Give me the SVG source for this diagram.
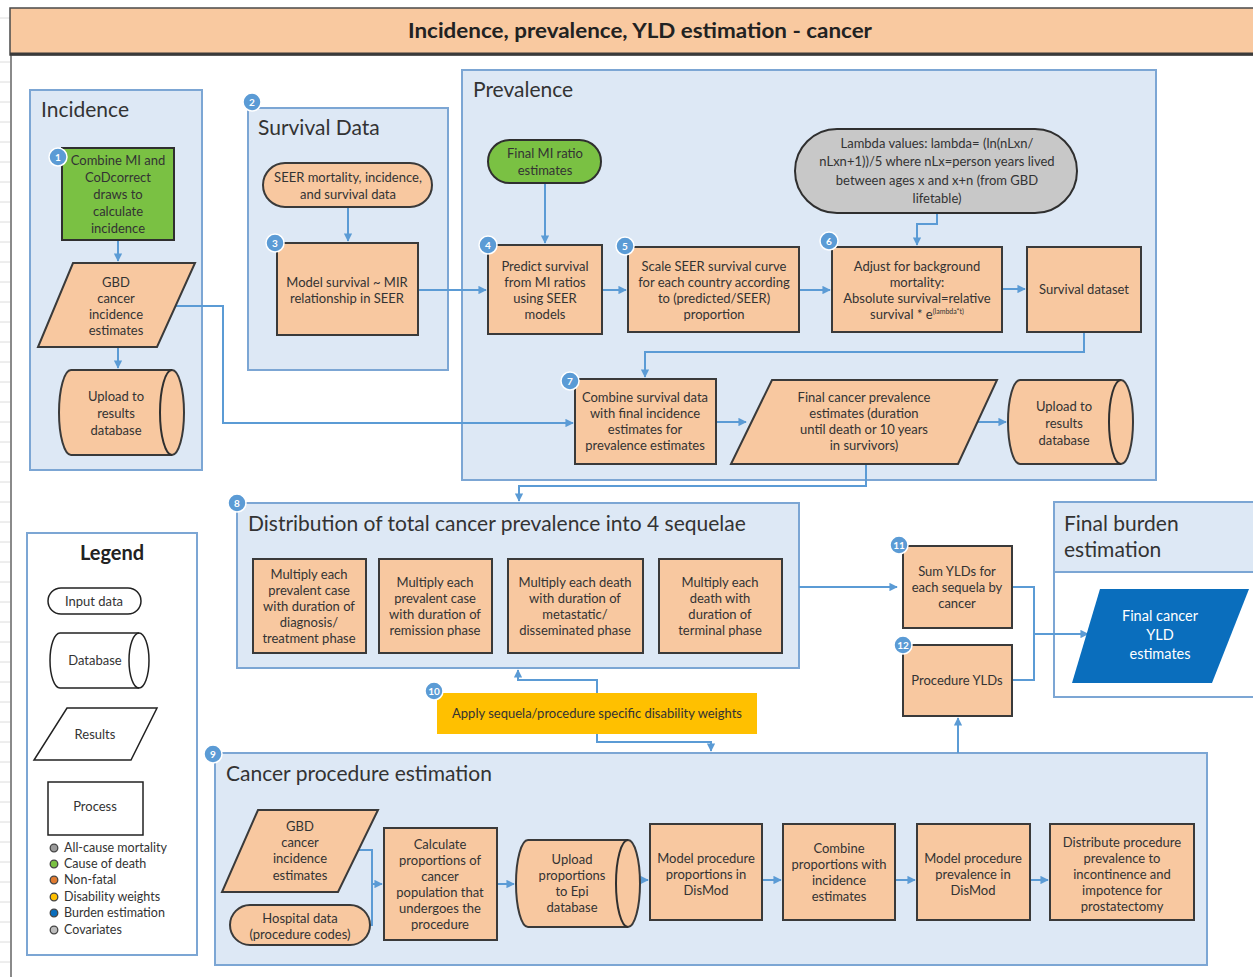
<svg xmlns="http://www.w3.org/2000/svg" width="1253" height="977" viewBox="0 0 1253 977">
  <defs>
    <marker id="arr" viewBox="0 0 10 10" refX="9" refY="5" markerWidth="4.2" markerHeight="4.2" orient="auto">
      <path d="M0,0 L10,5 L0,10 Z" fill="#5b9bd5"/>
    </marker>
    <style>
      .panel { fill: #dde8f5; stroke: #7ca6d4; stroke-width: 2; }
      .ptitle { font-family: Lato, "Open Sans", "Liberation Sans", sans-serif; font-size: 21px; fill: #333; }
      .proc { fill: #f8c8a0; stroke: #3a3a3a; stroke-width: 2; }
      .t { font-family: Lato, "Liberation Sans", sans-serif; font-size: 13px; fill: #333; text-anchor: middle; }
      .tw { font-family: Lato, "Liberation Sans", sans-serif; font-size: 14.5px; fill: #fff; text-anchor: middle; }
      .badge circle { fill: #5b9bd5; stroke: #fff; stroke-width: 1.5; }
      .badge text { font-family: Lato, "Liberation Sans", sans-serif; font-size: 10px; font-weight: bold; fill: #fff; text-anchor: middle; }
      .conn { fill: none; stroke: #5b9bd5; stroke-width: 2; }
      .leg { fill: #fff; stroke: #222; stroke-width: 1.5; }
      .lt { font-family: Lato, "Liberation Sans", sans-serif; font-size: 12.5px; fill: #333; }
      .grid { stroke: #dcdcdc; stroke-width: 1; }
    </style>
  </defs>

  <rect x="0" y="0" width="1253" height="977" fill="#fff"/>

  <!-- sheet gridlines at the left margin -->
  <g id="sheet-grid">
    <line class="grid" x1="0" y1="18" x2="10" y2="18"/>
    <line class="grid" x1="0" y1="62" x2="10" y2="62"/>
    <line class="grid" x1="0" y1="82" x2="10" y2="82"/>
    <line class="grid" x1="0" y1="102" x2="10" y2="102"/>
    <line class="grid" x1="0" y1="122" x2="10" y2="122"/>
    <line class="grid" x1="0" y1="142" x2="10" y2="142"/>
    <line class="grid" x1="0" y1="162" x2="10" y2="162"/>
    <line class="grid" x1="0" y1="182" x2="10" y2="182"/>
    <line class="grid" x1="0" y1="202" x2="10" y2="202"/>
    <line class="grid" x1="0" y1="222" x2="10" y2="222"/>
    <line class="grid" x1="0" y1="242" x2="10" y2="242"/>
    <line class="grid" x1="0" y1="262" x2="10" y2="262"/>
    <line class="grid" x1="0" y1="282" x2="10" y2="282"/>
    <line class="grid" x1="0" y1="302" x2="10" y2="302"/>
    <line class="grid" x1="0" y1="322" x2="10" y2="322"/>
    <line class="grid" x1="0" y1="342" x2="10" y2="342"/>
    <line class="grid" x1="0" y1="362" x2="10" y2="362"/>
    <line class="grid" x1="0" y1="382" x2="10" y2="382"/>
    <line class="grid" x1="0" y1="402" x2="10" y2="402"/>
    <line class="grid" x1="0" y1="422" x2="10" y2="422"/>
    <line class="grid" x1="0" y1="442" x2="10" y2="442"/>
    <line class="grid" x1="0" y1="462" x2="10" y2="462"/>
    <line class="grid" x1="0" y1="482" x2="10" y2="482"/>
    <line class="grid" x1="0" y1="502" x2="10" y2="502"/>
    <line class="grid" x1="0" y1="522" x2="10" y2="522"/>
    <line class="grid" x1="0" y1="542" x2="10" y2="542"/>
    <line class="grid" x1="0" y1="562" x2="10" y2="562"/>
    <line class="grid" x1="0" y1="582" x2="10" y2="582"/>
    <line class="grid" x1="0" y1="602" x2="10" y2="602"/>
    <line class="grid" x1="0" y1="622" x2="10" y2="622"/>
    <line class="grid" x1="0" y1="642" x2="10" y2="642"/>
    <line class="grid" x1="0" y1="662" x2="10" y2="662"/>
    <line class="grid" x1="0" y1="682" x2="10" y2="682"/>
    <line class="grid" x1="0" y1="702" x2="10" y2="702"/>
    <line class="grid" x1="0" y1="722" x2="10" y2="722"/>
    <line class="grid" x1="0" y1="742" x2="10" y2="742"/>
    <line class="grid" x1="0" y1="762" x2="10" y2="762"/>
    <line class="grid" x1="0" y1="782" x2="10" y2="782"/>
    <line class="grid" x1="0" y1="802" x2="10" y2="802"/>
    <line class="grid" x1="0" y1="822" x2="10" y2="822"/>
    <line class="grid" x1="0" y1="842" x2="10" y2="842"/>
    <line class="grid" x1="0" y1="862" x2="10" y2="862"/>
    <line class="grid" x1="0" y1="882" x2="10" y2="882"/>
    <line class="grid" x1="0" y1="902" x2="10" y2="902"/>
    <line class="grid" x1="0" y1="922" x2="10" y2="922"/>
    <line class="grid" x1="0" y1="942" x2="10" y2="942"/>
    <line class="grid" x1="0" y1="962" x2="10" y2="962"/>
    <line x1="11" y1="54" x2="11" y2="977" stroke="#8a8a8a" stroke-width="2"/>
  </g>

  <!-- title bar -->
  <g id="title">
    <rect x="10" y="8" width="1245" height="47" fill="#f9c9a0" stroke="#4a4a4a" stroke-width="1.5"/>
    <line x1="10" y1="54" x2="1253" y2="54" stroke="#3a3a3a" stroke-width="3"/>
    <text x="640" y="38" text-anchor="middle" font-family="Lato, 'Liberation Sans', sans-serif" font-size="21" font-weight="bold" fill="#222" textLength="464" lengthAdjust="spacingAndGlyphs">Incidence, prevalence, YLD estimation - cancer</text>
  </g>

  <!-- panels -->
  <g id="panel-incidence">
    <rect class="panel" x="30" y="90" width="172" height="380"/>
    <text class="ptitle" x="41" y="117">Incidence</text>
  </g>
  <g id="panel-survival">
    <rect class="panel" x="248" y="108" width="200" height="262"/>
    <text class="ptitle" x="258" y="135">Survival Data</text>
    <g class="badge"><circle cx="252" cy="102" r="9"/><text x="252" y="106">2</text></g>
  </g>
  <g id="panel-prevalence">
    <rect class="panel" x="462" y="70" width="694" height="410"/>
    <text class="ptitle" x="473" y="97">Prevalence</text>
  </g>
  <g id="panel-sequelae">
    <rect class="panel" x="237" y="503" width="562" height="165"/>
    <text class="ptitle" x="248" y="531">Distribution of total cancer prevalence into 4 sequelae</text>
    <g class="badge"><circle cx="237" cy="503" r="9"/><text x="237" y="507">8</text></g>
  </g>
  <g id="panel-burden">
    <rect x="1054" y="502" width="200" height="195" fill="#fff" stroke="#7ca6d4" stroke-width="2"/>
    <rect x="1054" y="502" width="200" height="70" fill="#dde8f5" stroke="#7ca6d4" stroke-width="2"/>
    <text class="ptitle" x="1064" y="531">Final burden</text>
    <text class="ptitle" x="1064" y="557">estimation</text>
  </g>
  <g id="panel-procedure">
    <rect class="panel" x="215" y="753" width="992" height="212"/>
    <text class="ptitle" x="226" y="781">Cancer procedure estimation</text>
    <g class="badge"><circle cx="213" cy="754" r="9"/><text x="213" y="758">9</text></g>
  </g>

  <!-- connectors -->
  <g id="connectors">
    <path class="conn" d="M118,240 V261" marker-end="url(#arr)"/>
    <path class="conn" d="M118,347 V368" marker-end="url(#arr)"/>
    <path class="conn" d="M176,306 H223 V423 H573" marker-end="url(#arr)"/>
    <path class="conn" d="M348,207 V241" marker-end="url(#arr)"/>
    <path class="conn" d="M418,290 H486" marker-end="url(#arr)"/>
    <path class="conn" d="M545,183 V243" marker-end="url(#arr)"/>
    <path class="conn" d="M602,290 H626" marker-end="url(#arr)"/>
    <path class="conn" d="M799,290 H830" marker-end="url(#arr)"/>
    <path class="conn" d="M937,213 V224 H917 V245" marker-end="url(#arr)"/>
    <path class="conn" d="M1002,289 H1025" marker-end="url(#arr)"/>
    <path class="conn" d="M1084,332 V352 H645 V377" marker-end="url(#arr)"/>
    <path class="conn" d="M716,422 H746" marker-end="url(#arr)"/>
    <path class="conn" d="M978,422 H1006" marker-end="url(#arr)"/>
    <path class="conn" d="M866,464 V486 H519 V501" marker-end="url(#arr)"/>
    <path class="conn" d="M799,587 H897" marker-end="url(#arr)"/>
    <path class="conn" d="M1012,587 H1034 V680 H1012"/>
    <path class="conn" d="M1034,634 H1088" marker-end="url(#arr)"/>
    <path class="conn" d="M597,693 V680 H518 V670" marker-end="url(#arr)"/>
    <path class="conn" d="M597,734 V742 H711 V751" marker-end="url(#arr)"/>
    <path class="conn" d="M958,753 V718" marker-end="url(#arr)"/>
    <path class="conn" d="M358,850 H372 V925 H370"/>
    <path class="conn" d="M372,884 H382" marker-end="url(#arr)"/>
    <path class="conn" d="M497,884 H514" marker-end="url(#arr)"/>
    <path class="conn" d="M640,880 H648" marker-end="url(#arr)"/>
    <path class="conn" d="M762,880 H781" marker-end="url(#arr)"/>
    <path class="conn" d="M895,880 H915" marker-end="url(#arr)"/>
    <path class="conn" d="M1030,880 H1048" marker-end="url(#arr)"/>
  </g>

  <!-- incidence nodes -->
  <g id="n1">
    <rect x="62" y="148" width="112" height="92" fill="#7ac143" stroke="#2f2f2f" stroke-width="2"/>
    <text class="t" x="118" y="165">Combine MI and</text>
    <text class="t" x="118" y="182">CoDcorrect</text>
    <text class="t" x="118" y="199">draws to</text>
    <text class="t" x="118" y="216">calculate</text>
    <text class="t" x="118" y="233">incidence</text>
    <g class="badge"><circle cx="58" cy="157" r="9"/><text x="58" y="161">1</text></g>
  </g>
  <g id="n-gbd-incidence">
    <polygon class="proc" points="73,263 195,263 157,347 38,347"/>
    <text class="t" x="116" y="287">GBD</text>
    <text class="t" x="116" y="303">cancer</text>
    <text class="t" x="116" y="319">incidence</text>
    <text class="t" x="116" y="335">estimates</text>
  </g>
  <g id="n-upload-incidence">
    <path class="proc" d="M71,370 H172 A12,42.5 0 0 1 172,455 H71 A12,42.5 0 0 1 71,370 Z"/>
    <path d="M172,370 A12,42.5 0 0 0 172,455" fill="none" stroke="#2f2f2f" stroke-width="2"/>
    <text class="t" x="116" y="401">Upload to</text>
    <text class="t" x="116" y="418">results</text>
    <text class="t" x="116" y="435">database</text>
  </g>

  <!-- survival data nodes -->
  <g id="n-seer">
    <rect class="proc" x="263" y="163" width="169" height="44" rx="22"/>
    <text class="t" x="348" y="182">SEER mortality, incidence,</text>
    <text class="t" x="348" y="199">and survival data</text>
  </g>
  <g id="n3">
    <rect class="proc" x="277" y="243" width="141" height="92"/>
    <text class="t" x="347" y="287">Model survival ~ MIR</text>
    <text class="t" x="347" y="303">relationship in SEER</text>
    <g class="badge"><circle cx="275" cy="243" r="9"/><text x="275" y="247">3</text></g>
  </g>

  <!-- prevalence nodes -->
  <g id="n-final-mi">
    <rect x="488" y="140" width="113" height="43" rx="21.5" fill="#7ac143" stroke="#2f2f2f" stroke-width="2"/>
    <text class="t" x="545" y="158">Final MI ratio</text>
    <text class="t" x="545" y="175">estimates</text>
  </g>
  <g id="n4">
    <rect class="proc" x="488" y="245" width="114" height="89"/>
    <text class="t" x="545" y="271">Predict survival</text>
    <text class="t" x="545" y="287">from MI ratios</text>
    <text class="t" x="545" y="303">using SEER</text>
    <text class="t" x="545" y="319">models</text>
    <g class="badge"><circle cx="488" cy="245" r="9"/><text x="488" y="249">4</text></g>
  </g>
  <g id="n5">
    <rect class="proc" x="628" y="247" width="171" height="85"/>
    <text class="t" x="714" y="271">Scale SEER survival curve</text>
    <text class="t" x="714" y="287">for each country according</text>
    <text class="t" x="714" y="303">to (predicted/SEER)</text>
    <text class="t" x="714" y="319">proportion</text>
    <g class="badge"><circle cx="625" cy="246" r="9"/><text x="625" y="250">5</text></g>
  </g>
  <g id="n-lambda">
    <rect x="795" y="129" width="282" height="84" rx="42" fill="#c8c8c8" stroke="#2f2f2f" stroke-width="2"/>
    <text class="t" x="937" y="148" font-size="14.5">Lambda values: lambda= (ln(nLxn/</text>
    <text class="t" x="937" y="166" font-size="14.5">nLxn+1))/5 where nLx=person years lived</text>
    <text class="t" x="937" y="185" font-size="14.5">between ages x and x+n (from GBD</text>
    <text class="t" x="937" y="203" font-size="14.5">lifetable)</text>
  </g>
  <g id="n6">
    <rect class="proc" x="832" y="247" width="170" height="85"/>
    <text class="t" x="917" y="271">Adjust for background</text>
    <text class="t" x="917" y="287">mortality:</text>
    <text class="t" x="917" y="303">Absolute survival=relative</text>
    <text class="t" x="917" y="319">survival * e<tspan font-size="7" dy="-5">(lambda*t)</tspan></text>
    <g class="badge"><circle cx="829" cy="241" r="9"/><text x="829" y="245">6</text></g>
  </g>
  <g id="n-survival-dataset">
    <rect class="proc" x="1027" y="247" width="114" height="85"/>
    <text class="t" x="1084" y="294">Survival dataset</text>
  </g>
  <g id="n7">
    <rect class="proc" x="575" y="379" width="141" height="85"/>
    <text class="t" x="645" y="402">Combine survival data</text>
    <text class="t" x="645" y="418">with final incidence</text>
    <text class="t" x="645" y="434">estimates for</text>
    <text class="t" x="645" y="450">prevalence estimates</text>
    <g class="badge"><circle cx="570" cy="381" r="9"/><text x="570" y="385">7</text></g>
  </g>
  <g id="n-final-prevalence">
    <polygon class="proc" points="772,380 997,380 958,464 731,464"/>
    <text class="t" x="864" y="402">Final cancer prevalence</text>
    <text class="t" x="864" y="418">estimates (duration</text>
    <text class="t" x="864" y="434">until death or 10 years</text>
    <text class="t" x="864" y="450">in survivors)</text>
  </g>
  <g id="n-upload-prevalence">
    <path class="proc" d="M1020,380 H1121 A12,42 0 0 1 1121,464 H1020 A12,42 0 0 1 1020,380 Z"/>
    <path d="M1121,380 A12,42 0 0 0 1121,464" fill="none" stroke="#2f2f2f" stroke-width="2"/>
    <text class="t" x="1064" y="411">Upload to</text>
    <text class="t" x="1064" y="428">results</text>
    <text class="t" x="1064" y="445">database</text>
  </g>

  <!-- sequelae nodes -->
  <g id="n8a">
    <rect class="proc" x="253" y="559" width="113" height="94"/>
    <text class="t" x="309" y="579">Multiply each</text>
    <text class="t" x="309" y="595">prevalent case</text>
    <text class="t" x="309" y="611">with duration of</text>
    <text class="t" x="309" y="627">diagnosis/</text>
    <text class="t" x="309" y="643">treatment phase</text>
  </g>
  <g id="n8b">
    <rect class="proc" x="379" y="559" width="113" height="94"/>
    <text class="t" x="435" y="587">Multiply each</text>
    <text class="t" x="435" y="603">prevalent case</text>
    <text class="t" x="435" y="619">with duration of</text>
    <text class="t" x="435" y="635">remission phase</text>
  </g>
  <g id="n8c">
    <rect class="proc" x="508" y="559" width="135" height="94"/>
    <text class="t" x="575" y="587">Multiply each death</text>
    <text class="t" x="575" y="603">with duration of</text>
    <text class="t" x="575" y="619">metastatic/</text>
    <text class="t" x="575" y="635">disseminated phase</text>
  </g>
  <g id="n8d">
    <rect class="proc" x="659" y="559" width="123" height="94"/>
    <text class="t" x="720" y="587">Multiply each</text>
    <text class="t" x="720" y="603">death with</text>
    <text class="t" x="720" y="619">duration of</text>
    <text class="t" x="720" y="635">terminal phase</text>
  </g>

  <!-- YLD nodes -->
  <g id="n11">
    <rect class="proc" x="903" y="546" width="109" height="82"/>
    <text class="t" x="957" y="576">Sum YLDs for</text>
    <text class="t" x="957" y="592">each sequela by</text>
    <text class="t" x="957" y="608">cancer</text>
    <g class="badge"><circle cx="899" cy="545" r="9"/><text x="899" y="549">11</text></g>
  </g>
  <g id="n12">
    <rect class="proc" x="903" y="645" width="109" height="71"/>
    <text class="t" x="957" y="685">Procedure YLDs</text>
    <g class="badge"><circle cx="903" cy="645" r="9"/><text x="903" y="649">12</text></g>
  </g>
  <g id="n-final-yld">
    <polygon points="1100,589 1249,589 1212,683 1072,683" fill="#0a6ebd"/>
    <text class="tw" x="1160" y="621">Final cancer</text>
    <text class="tw" x="1160" y="640">YLD</text>
    <text class="tw" x="1160" y="659">estimates</text>
  </g>
  <g id="n10">
    <rect x="437" y="693" width="320" height="41" fill="#ffc000"/>
    <text class="t" x="597" y="718">Apply sequela/procedure specific disability weights</text>
    <g class="badge"><circle cx="434" cy="691" r="9"/><text x="434" y="695">10</text></g>
  </g>

  <!-- procedure nodes -->
  <g id="n-gbd-procedure">
    <polygon class="proc" points="258,810 378,810 338,892 222,892"/>
    <text class="t" x="300" y="831">GBD</text>
    <text class="t" x="300" y="847">cancer</text>
    <text class="t" x="300" y="863">incidence</text>
    <text class="t" x="300" y="880">estimates</text>
  </g>
  <g id="n-hospital">
    <rect class="proc" x="230" y="905" width="140" height="40" rx="20"/>
    <text class="t" x="300" y="923">Hospital data</text>
    <text class="t" x="300" y="939">(procedure codes)</text>
  </g>
  <g id="n-calculate">
    <rect class="proc" x="384" y="828" width="113" height="112"/>
    <text class="t" x="440" y="849">Calculate</text>
    <text class="t" x="440" y="865">proportions  of</text>
    <text class="t" x="440" y="881">cancer</text>
    <text class="t" x="440" y="897">population that</text>
    <text class="t" x="440" y="913">undergoes the</text>
    <text class="t" x="440" y="929">procedure</text>
  </g>
  <g id="n-upload-epi">
    <path class="proc" d="M528,840 H628 A12,43.5 0 0 1 628,927 H528 A12,43.5 0 0 1 528,840 Z"/>
    <path d="M628,840 A12,43.5 0 0 0 628,927" fill="none" stroke="#2f2f2f" stroke-width="2"/>
    <text class="t" x="572" y="864">Upload</text>
    <text class="t" x="572" y="880">proportions</text>
    <text class="t" x="572" y="896">to Epi</text>
    <text class="t" x="572" y="912">database</text>
  </g>
  <g id="n-model-proportions">
    <rect class="proc" x="650" y="824" width="112" height="96"/>
    <text class="t" x="706" y="863">Model procedure</text>
    <text class="t" x="706" y="879">proportions in</text>
    <text class="t" x="706" y="895">DisMod</text>
  </g>
  <g id="n-combine-proportions">
    <rect class="proc" x="783" y="824" width="112" height="96"/>
    <text class="t" x="839" y="853">Combine</text>
    <text class="t" x="839" y="869">proportions with</text>
    <text class="t" x="839" y="885">incidence</text>
    <text class="t" x="839" y="901">estimates</text>
  </g>
  <g id="n-model-prevalence">
    <rect class="proc" x="917" y="824" width="113" height="96"/>
    <text class="t" x="973" y="863">Model procedure</text>
    <text class="t" x="973" y="879">prevalence in</text>
    <text class="t" x="973" y="895">DisMod</text>
  </g>
  <g id="n-distribute">
    <rect class="proc" x="1050" y="824" width="144" height="96"/>
    <text class="t" x="1122" y="847">Distribute procedure</text>
    <text class="t" x="1122" y="863">prevalence to</text>
    <text class="t" x="1122" y="879">incontinence and</text>
    <text class="t" x="1122" y="895">impotence for</text>
    <text class="t" x="1122" y="911">prostatectomy</text>
  </g>

  <!-- legend -->
  <g id="legend">
    <rect x="27" y="533" width="170" height="422" fill="#fff" stroke="#7ca6d4" stroke-width="2"/>
    <text x="112" y="560" text-anchor="middle" font-family="Lato, 'Liberation Sans', sans-serif" font-size="20" font-weight="bold" fill="#222">Legend</text>
    <rect class="leg" x="48" y="588" width="93" height="26" rx="13"/>
    <text class="t" x="94" y="606">Input data</text>
    <path class="leg" d="M60,633 H139 A10,27.5 0 0 1 139,688 H60 A10,27.5 0 0 1 60,633 Z"/>
    <path d="M139,633 A10,27.5 0 0 0 139,688" fill="none" stroke="#222" stroke-width="1.5"/>
    <text class="t" x="95" y="665">Database</text>
    <polygon class="leg" points="67,708 157,708 131,760 34,760"/>
    <text class="t" x="95" y="739">Results</text>
    <rect class="leg" x="48" y="782" width="95" height="53"/>
    <text class="t" x="95" y="811">Process</text>
    <circle cx="54" cy="848" r="3.8" fill="#9a9a9a" stroke="#444" stroke-width="1.3"/>
    <circle cx="54" cy="864" r="3.8" fill="#7ac143" stroke="#444" stroke-width="1.3"/>
    <circle cx="54" cy="880" r="3.8" fill="#e07b30" stroke="#444" stroke-width="1.3"/>
    <circle cx="54" cy="897" r="3.8" fill="#ffc000" stroke="#444" stroke-width="1.3"/>
    <circle cx="54" cy="913" r="3.8" fill="#0a6ebd" stroke="#444" stroke-width="1.3"/>
    <circle cx="54" cy="930" r="3.8" fill="#bdbdbd" stroke="#444" stroke-width="1.3"/>
    <text class="lt" x="64" y="852">All-cause mortality</text>
    <text class="lt" x="64" y="868">Cause of death</text>
    <text class="lt" x="64" y="884">Non-fatal</text>
    <text class="lt" x="64" y="901">Disability weights</text>
    <text class="lt" x="64" y="917">Burden estimation</text>
    <text class="lt" x="64" y="934">Covariates</text>
  </g>
</svg>
